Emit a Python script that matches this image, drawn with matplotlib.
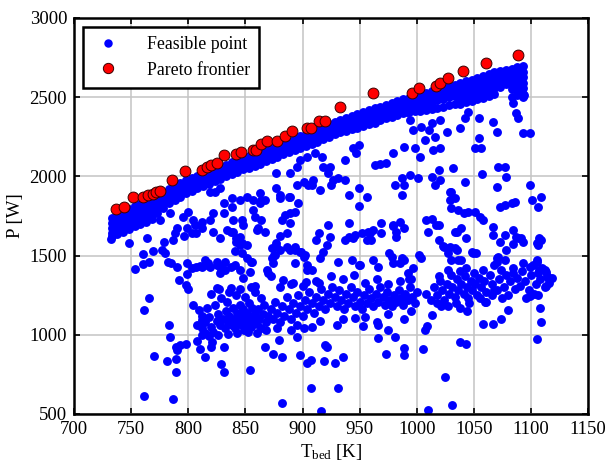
import matplotlib
matplotlib.use("Agg")
import matplotlib.pyplot as plt
import numpy as np

plt.rcParams["font.family"] = ["Liberation Serif", "DejaVu Serif"]
plt.rcParams["mathtext.fontset"] = "custom"
plt.rcParams["mathtext.rm"] = "Liberation Serif"
plt.rcParams["mathtext.it"] = "Liberation Serif:italic"

# pareto-optimal designs (T_bed [K], P [W])
pareto_T = [737, 744, 752, 760, 765, 769, 772, 775, 786, 797, 812, 816, 820, 825,
            831, 842, 846, 857, 859, 864, 869, 878, 885, 891, 904, 907, 914, 920,
            933, 962, 996, 1002, 1017, 1020, 1027, 1040, 1061, 1089]
pareto_P = [1793, 1808, 1870, 1870, 1881, 1891, 1902, 1908, 1975, 2031, 2038, 2059, 2075, 2086,
            2132, 2142, 2153, 2169, 2169, 2205, 2222, 2222, 2257, 2289, 2305, 2305, 2347, 2347,
            2435, 2527, 2529, 2556, 2571, 2588, 2623, 2665, 2713, 2764]

# dense band of feasible designs just under the frontier: one column per T
band_T = list(range(733, 1094, 5))
band_P = [
    [1738, 1705, 1672, 1645, 1625], [1757, 1725, 1690, 1660, 1635], [1775, 1742, 1708, 1672, 1648],
    [1795, 1760, 1725, 1690, 1668], [1810, 1777, 1742, 1710, 1685], [1825, 1790, 1755, 1722, 1700],
    [1840, 1805, 1770, 1738, 1712], [1855, 1820, 1785, 1755, 1730], [1872, 1838, 1803, 1770],
    [1898, 1865, 1830, 1800], [1920, 1888, 1855, 1830], [1940, 1906, 1875, 1850],
    [1960, 1925, 1895, 1872], [1975, 1942, 1910, 1895], [1990, 1958, 1928, 1910],
    [2000, 1970, 1940, 1925], [2015, 1985, 1955, 1940], [2030, 2000, 1970, 1955],
    [2045, 2015, 1985, 1970], [2062, 2032, 2005, 1985], [2075, 2045, 2020, 2000],
    [2090, 2060, 2035, 2015], [2102, 2072, 2045, 2028], [2115, 2085, 2060, 2045],
    [2127, 2098, 2072, 2055], [2140, 2110, 2085, 2066], [2155, 2125, 2100, 2080],
    [2170, 2140, 2115, 2095], [2182, 2152, 2128, 2110], [2195, 2165, 2140, 2125],
    [2210, 2180, 2155, 2140], [2225, 2195, 2170, 2155], [2240, 2210, 2185, 2168],
    [2255, 2225, 2200, 2178], [2268, 2238, 2212, 2190], [2284, 2254, 2228, 2205],
    [2298, 2268, 2243, 2220], [2314, 2284, 2258, 2235], [2328, 2298, 2273, 2250],
    [2344, 2314, 2288, 2265], [2355, 2325, 2300, 2278], [2370, 2340, 2312, 2288],
    [2382, 2352, 2325, 2298], [2395, 2365, 2335, 2308], [2407, 2377, 2347, 2318],
    [2420, 2390, 2358, 2328], [2430, 2400, 2370, 2340], [2441, 2410, 2382, 2355],
    [2452, 2422, 2394, 2368], [2465, 2435, 2405, 2378], [2477, 2447, 2417, 2388],
    [2486, 2456, 2426, 2398], [2496, 2466, 2436, 2405], [2506, 2476, 2444, 2410],
    [2515, 2485, 2450, 2415], [2526, 2495, 2460, 2420], [2536, 2505, 2470, 2425],
    [2546, 2515, 2480, 2430], [2557, 2525, 2490, 2438], [2570, 2538, 2500, 2448],
    [2580, 2548, 2510, 2455], [2591, 2558, 2520, 2485, 2460], [2601, 2568, 2530, 2495, 2467],
    [2611, 2578, 2542, 2508, 2477], [2621, 2588, 2555, 2520, 2487], [2631, 2598, 2565, 2530, 2497],
    [2645, 2612, 2578, 2545, 2508], [2660, 2625, 2590, 2555, 2518], [2668, 2635, 2600, 2565],
    [2672, 2640, 2608, 2582], [2680, 2645, 2610, 2575, 2550], [2688, 2652, 2615, 2580, 2545, 2512],
    [2695, 2660, 2625, 2590, 2555, 2520, 2500],
]

# scattered feasible designs between the band and the low-power cluster
mid_pts = [
    (732, 1603), (748, 1582), (753, 1416), (760, 1446), (760, 1511), (766, 1462), (769, 1532),
    (764, 1609), (779, 1588), (777, 1536), (788, 1641), (790, 1673), (795, 1746), (799, 1673),
    (796, 1624), (803, 1641), (806, 1693), (780, 1519), (782, 1462), (785, 1452), (790, 1427),
    (792, 1347), (798, 1315), (800, 1290), (787, 1599), (775, 1725), (784, 1767), (800, 1777),
    (804, 1725), (807, 1641), (799, 1452), (803, 1420), (807, 1431), (810, 1435), (815, 1441),
    (817, 1456), (799, 1384),
    (819, 1904), (823, 1904), (828, 1925), (831, 1830), (838, 1862), (831, 1767), (838, 1809),
    (819, 1725), (812, 1714), (812, 1673), (822, 1652), (828, 1609), (834, 1662), (839, 1652),
    (847, 1725), (848, 1693), (845, 1620), (842, 1588), (847, 1582), (851, 1567), (857, 1788),
    (858, 1746), (863, 1830), (864, 1851), (861, 1672), (867, 1652), (873, 1546), (875, 1504),
    (873, 1483), (877, 1578), (880, 1536), (882, 1725), (885, 1757), (889, 1767), (893, 1778),
    (889, 1704), (886, 1641), (895, 1946), (901, 1967), (908, 1946), (915, 1914), (877, 1925),
    (880, 1883), (888, 1872), (896, 1830), (889, 1536), (893, 1536), (898, 1525), (901, 1494),
    (904, 1441), (908, 1410), (914, 1641), (912, 1599), (918, 1525), (921, 1567), (915, 1483),
    (815, 1473), (812, 1431), (819, 1431), (825, 1441), (828, 1389), (832, 1410), (837, 1431),
    (841, 1441), (845, 1410), (851, 1483), (856, 1462), (854, 1399), (848, 1357), (869, 1410),
    (872, 1368), (883, 1347), (892, 1326), (825, 1294), (837, 1294), (858, 1305),
    (825, 1462), (828, 1431), (832, 1462), (841, 1532), (847, 1515), (855, 1462), (837, 1651),
    (842, 1609), (845, 1567), (870, 1393), (874, 1456), (876, 1504), (877, 1561), (880, 1624),
    (886, 1553), (893, 1553), (899, 1525), (902, 1504), (893, 1452), (904, 1410), (903, 1336),
    (914, 1326), (922, 1693), (924, 1620),
    (845, 1851), (851, 1872), (857, 1851), (863, 1893), (867, 1851), (880, 1862), (889, 1872),
    (895, 2061), (898, 2103), (904, 2124), (911, 2145), (917, 2124), (918, 2061), (922, 2019),
    (927, 1977), (909, 1977), (905, 1946), (889, 2019), (877, 2019), (864, 1725), (860, 1662),
    (839, 1725), (822, 1767),
    (925, 1946), (931, 1988), (937, 1977), (949, 1925), (941, 1883), (956, 1872), (949, 1813),
    (981, 1946), (987, 1988), (989, 1946), (994, 2009), (1001, 1988), (987, 1883), (1016, 1946),
    (1020, 1977), (1013, 1998), (1029, 1904), (1029, 1851), (941, 1704), (937, 1599),
    (941, 1620), (946, 1630), (952, 1641), (957, 1651), (962, 1662), (969, 1704), (960, 1599),
    (956, 1599), (979, 1693), (982, 1651), (985, 1714), (989, 1672), (982, 1620), (1008, 1725),
    (1013, 1729), (1010, 1651), (1019, 1693), (1019, 1599), (1024, 1557), (1027, 1515),
    (1030, 1473), (931, 1462), (949, 1441), (962, 1473), (966, 1431), (978, 1494), (989, 1473),
    (997, 1420), (1004, 1483), (1019, 1368),
    (994, 2355), (991, 2408), (997, 2292), (1004, 2313), (1013, 2335), (1011, 2292), (1007, 2229),
    (1016, 2250), (1014, 2166), (1020, 2177), (1019, 2040), (998, 2177), (1003, 2124), (989, 2183),
    (979, 2145), (963, 2072), (968, 2076), (973, 2082), (949, 2198), (944, 2177), (947, 2145),
    (937, 2103), (924, 2061), (1032, 2051), (1020, 2355), (1026, 2282), (1038, 2303), (1042, 2366),
    (1045, 2408), (1054, 2366), (1054, 2240), (1051, 2177), (1056, 2177), (1067, 2345),
    (1070, 2282), (1077, 2061), (1071, 2061), (1083, 2503), (1084, 2461), (1087, 2397),
    (1089, 2366), (1094, 2513), (1093, 2271), (1099, 2271),
    (1057, 2015), (1078, 1998), (1042, 1967), (1070, 1935), (1099, 1946), (1101, 1851),
    (1109, 1872), (1106, 1809), (1030, 1904), (1033, 1862), (1030, 1799), (1036, 1788),
    (1041, 1767), (1045, 1778), (1051, 1778), (1055, 1746), (1058, 1725), (1073, 1809),
    (1077, 1820), (1083, 1830), (1086, 1841), (1035, 1652), (1039, 1673), (1043, 1610),
    (1067, 1683), (1067, 1630), (1073, 1588), (1077, 1630), (1078, 1536), (1084, 1662),
    (1089, 1610), (1093, 1588), (1106, 1567), (1109, 1599), (1035, 1536), (1048, 1525),
    (1052, 1515), (1070, 1483), (1077, 1473), (1105, 1473), (1112, 1410), (1115, 1357),
    (1113, 1305),
    (944, 1609), (959, 1641), (969, 1641), (979, 1687), (1017, 1693), (1023, 1561), (1029, 1557),
    (1033, 1546), (1036, 1473), (1039, 1473), (1049, 1519), (1033, 1651), (1084, 1574),
    (1087, 1620), (1091, 1609), (1105, 1578), (1107, 1609), (1093, 1452), (1099, 1431),
    (1105, 1462), (1107, 1410), (1113, 1399), (1116, 1357), (1084, 1389), (1071, 1494),
    (1070, 1462), (985, 1456), (979, 1452), (992, 1389), (993, 1351), (943, 1473), (950, 1441),
    (976, 1515), (987, 1483), (1002, 1504),
]

# low-power feasible designs
low_pts = [
    (766, 1235), (761, 1158), (783, 1063), (784, 985), (789, 926), (793, 937), (798, 941),
    (790, 905), (770, 868), (781, 832), (789, 849), (789, 765), (761, 611), (787, 596),
    (808, 958), (810, 910), (815, 857), (820, 926), (821, 954), (829, 815), (831, 765),
    (831, 926), (804, 1185), (809, 1158), (812, 1095), (815, 1010), (854, 779), (867, 926),
    (874, 878), (879, 968), (882, 861), (882, 569), (895, 989), (898, 870), (904, 821),
    (907, 842), (907, 664), (916, 516), (919, 832), (920, 933), (901, 1046), (908, 1052),
    (921, 926), (928, 821), (935, 857), (931, 664), (946, 1105), (953, 1053), (966, 1063),
    (966, 979), (975, 1032), (981, 983), (973, 878), (989, 916), (989, 874), (989, 1101),
    (1005, 910), (1007, 1032), (1009, 1053), (1013, 1126), (1021, 1179), (1027, 1179),
    (1025, 731), (1031, 559), (1010, 527), (1038, 952), (1043, 941), (1038, 1172), (1044, 1151),
    (1058, 1067), (1067, 1067), (1074, 1101), (1080, 1158), (1060, 1206), (1108, 1168),
    (1109, 1080), (1105, 973), (1099, 1242), (1106, 1252), (1068, 1284), (1061, 1204),
    # cluster around 810-870 K
    (808, 1060), (812, 1040), (815, 1080), (818, 1110), (820, 1050), (822, 1020), (825, 1090),
    (826, 1130), (828, 1060), (830, 1100), (832, 1040), (833, 1150), (835, 1080), (836, 1120),
    (838, 1060), (839, 1170), (840, 1100), (841, 1040), (843, 1140), (844, 1080), (845, 1190),
    (846, 1120), (847, 1060), (848, 1160), (849, 1030), (850, 1100), (851, 1140), (852, 1070),
    (853, 1200), (854, 1110), (855, 1050), (856, 1170), (857, 1090), (858, 1130), (860, 1070),
    (861, 1160), (862, 1100), (864, 1040), (865, 1130), (866, 1190), (868, 1080), (870, 1120),
    (812, 1120), (816, 1170), (823, 1190), (829, 1230), (834, 1210), (842, 1250), (850, 1240),
    (858, 1270), (864, 1230), (820, 1260), (827, 1290), (836, 1270), (845, 1290), (855, 1300),
    (812, 1000), (818, 990), (826, 1000), (835, 1005), (843, 1010), (852, 1020), (860, 1010),
    (868, 1030),
    # cluster around 870-1000 K
    (872, 1160), (874, 1100), (876, 1210), (878, 1140), (880, 1080), (882, 1180), (884, 1120),
    (886, 1240), (888, 1160), (890, 1100), (892, 1200), (894, 1140), (896, 1250), (898, 1180),
    (900, 1120), (902, 1220), (904, 1160), (906, 1270), (908, 1200), (910, 1140), (912, 1240),
    (914, 1180), (916, 1290), (918, 1220), (920, 1160), (922, 1260), (924, 1200), (926, 1300),
    (928, 1240), (930, 1180), (932, 1280), (934, 1220), (936, 1160), (938, 1260), (940, 1200),
    (942, 1300), (944, 1240), (946, 1180), (948, 1270), (950, 1210), (952, 1160), (954, 1250),
    (956, 1200), (958, 1290), (960, 1230), (962, 1180), (964, 1260), (966, 1210), (968, 1300),
    (970, 1240), (972, 1190), (974, 1270), (976, 1220), (978, 1180), (980, 1250), (982, 1210),
    (984, 1280), (986, 1230), (988, 1190), (990, 1260), (992, 1220), (994, 1300), (996, 1240),
    (998, 1200), (1000, 1270),
    (880, 1300), (890, 1320), (900, 1310), (912, 1340), (925, 1370), (935, 1350), (945, 1380),
    (955, 1330), (965, 1350), (975, 1320), (985, 1340), (995, 1350), (878, 1040), (895, 1060),
    (915, 1090), (935, 1100), (955, 1110), (975, 1130), (995, 1150), (890, 1030), (930, 1060),
    (965, 1080),
    # cluster around 1010-1060 K
    (1008, 1260), (1012, 1220), (1015, 1300), (1018, 1250), (1020, 1340), (1022, 1280),
    (1024, 1220), (1026, 1320), (1028, 1260), (1030, 1380), (1031, 1300), (1033, 1240),
    (1035, 1350), (1036, 1280), (1038, 1400), (1039, 1320), (1041, 1260), (1042, 1370),
    (1044, 1300), (1045, 1230), (1047, 1340), (1048, 1280), (1050, 1390), (1051, 1320),
    (1053, 1250), (1054, 1360), (1056, 1300), (1058, 1410), (1059, 1340), (1061, 1270),
    (1034, 1200), (1046, 1200), (1027, 1410), (1043, 1420), (1018, 1200), (1055, 1230),
    # cluster around 1060-1120 K
    (1064, 1380), (1066, 1320), (1068, 1440), (1070, 1280), (1072, 1350), (1074, 1410),
    (1076, 1300), (1078, 1380), (1080, 1250), (1082, 1340), (1084, 1420), (1086, 1290),
    (1088, 1360), (1090, 1310), (1092, 1400), (1095, 1340), (1098, 1280), (1100, 1380),
    (1102, 1440), (1104, 1320), (1106, 1390), (1108, 1350), (1110, 1420), (1112, 1300),
    (1114, 1370), (1116, 1330), (1118, 1360), (1066, 1250), (1075, 1230), (1096, 1230),
    (1103, 1260),
]

feas_T = [t for t, col in zip(band_T, band_P) for _ in col]
feas_P = [p for col in band_P for p in col]
feas_T += [p[0] for p in mid_pts + low_pts]
feas_P += [p[1] for p in mid_pts + low_pts]

fig = plt.figure(figsize=(6.07, 4.67), dpi=100)
ax = fig.add_axes([0.122, 0.1135, 0.847, 0.848])

ax.plot(feas_T, feas_P, 'o', color='#0000ff', ms=6.4, mew=0, label='Feasible point', zorder=2)
ax.plot(pareto_T, pareto_P, 'o', mfc='#ff0000', mec='#3a0000', mew=0.7, ms=7.8,
        label='Pareto frontier', zorder=3)

ax.set_xlim(700, 1150)
ax.set_ylim(500, 3000)
ax.set_xticks(np.arange(700, 1151, 50))
ax.set_yticks(np.arange(500, 3001, 500))
ax.grid(True, color='#c4c4c4', lw=1.1, zorder=0)
ax.set_axisbelow(True)
ax.tick_params(direction='in', top=True, right=True, length=4, width=1.2, labelsize=13.5,
               pad=5)
for s in ax.spines.values():
    s.set_linewidth(1.8)

ax.set_xlabel(r'T$_{\rm bed}$ [K]', fontsize=13.5, labelpad=3)
ax.set_ylabel('P [W]', fontsize=13.5, labelpad=4)

leg = ax.legend(loc='upper left', fontsize=12.8, fancybox=False, edgecolor='black',
                framealpha=1, borderaxespad=0.5, handletextpad=1.3, borderpad=0.5,
                labelspacing=0.5, handlelength=1.8, markerscale=0.95)
leg.get_frame().set_linewidth(1.8)

fig.savefig('out.png', dpi=100)
